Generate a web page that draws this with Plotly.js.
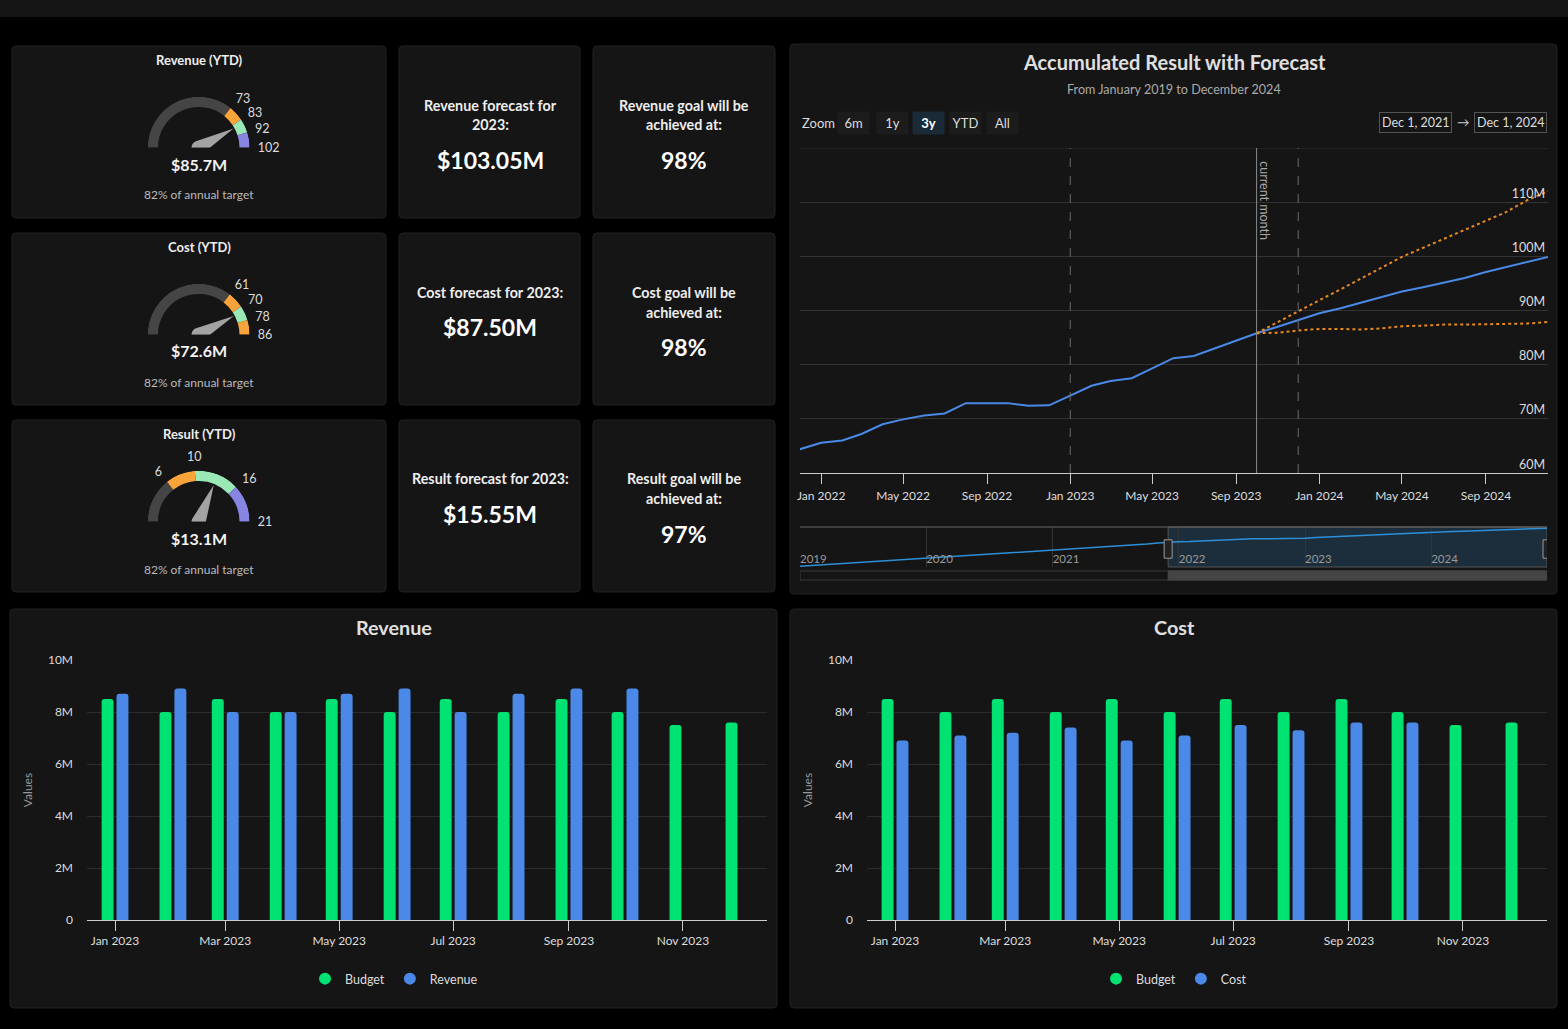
<!DOCTYPE html>
<html>
<head>
<meta charset="utf-8">
<script src="https://cdn.plot.ly/plotly-3.0.1.min.js"></script>
<style>
  html, body { margin: 0; padding: 0; background: #000; }
  #dash { width: 1568px; height: 1029px; }
</style>
</head>
<body>
<div id="dash"></div>
<script>
// ---------- data ----------
const gaugeTitles = ['Revenue (YTD)', 'Cost (YTD)', 'Result (YTD)'];
const gaugeValues = [85.7, 72.6, 13.1];            // $M year to date
const gaugeTicks = [[73, 83, 92, 102], [61, 70, 78, 86], [6, 10, 16, 21]];
const gaugeShare = ['82%', '82%', '82%'];

const forecastLabels = [['Revenue forecast for', '2023:'], ['Cost forecast for 2023:'], ['Result forecast for 2023:']];
const forecastValues = ['$103.05M', '$87.50M', '$15.55M'];
const goalLabels = [['Revenue goal will be', 'achieved at:'], ['Cost goal will be', 'achieved at:'], ['Result goal will be', 'achieved at:']];
const goalValues = ['98%', '98%', '97%'];

// accumulated result, monthly from Jan 2019 to Dec 2024 ($M)
const accValues = [
  3.2, 4.9, 6.5, 8.2, 10.0, 11.6, 13.3, 15.1, 16.7, 18.4, 20.2, 21.8,
  23.5, 25.3, 26.9, 28.6, 30.4, 32.0, 33.7, 35.5, 37.1, 38.8, 40.6, 42.2,
  43.9, 45.7, 47.3, 49.0, 50.8, 52.4, 54.1, 55.9, 57.5, 59.4, 62.0, 64.4,
  65.6, 66.0, 67.2, 69.0, 69.9, 70.6, 71.0, 72.9, 72.9, 72.9, 72.4, 72.5,
  74.3, 76.1, 77.0, 77.5, 79.3, 81.2, 81.6, 83.0, 84.4, 85.8, 87.0, 88.2,
  89.5, 90.4, 91.4, 92.4, 93.5, 94.3, 95.1, 96.0, 97.1, 98.0, 98.9, 99.9
];
// forecast band, Oct 2023 to Dec 2024 ($M)
const forecastHigh = [85.8, 87.9, 89.9, 91.9, 93.9, 95.9, 97.9, 99.9, 101.6, 103.2, 104.9, 106.5, 108.2, 110.4, 112.0];
const forecastLow  = [85.8, 85.9, 86.3, 86.6, 86.6, 86.5, 86.7, 87.1, 87.2, 87.4, 87.4, 87.5, 87.5, 87.6, 87.9];
const accTickVals = [60, 70, 80, 90, 100, 110, 120];
const accTickText = ['60M', '70M', '80M', '90M', '100M', '110M', ''];
const rangeStart = '2021-12-01';
const rangeEnd = '2024-12-01';
const currentMonth = '2023-10-01';
const markerLines = ['2023-01-01', '2023-12-01'];
const zoomButtons = ['6m', '1y', '3y', 'YTD', 'All'];
const activeZoom = '3y';

// monthly 2023 ($M)
const budget  = [8.5, 8.0, 8.5, 8.0, 8.5, 8.0, 8.5, 8.0, 8.5, 8.0, 7.5, 7.6];
const revenue = [8.7, 8.9, 8.0, 8.0, 8.7, 8.9, 8.0, 8.7, 8.9, 8.9, null, null];
const cost    = [6.9, 7.1, 7.2, 7.4, 6.9, 7.1, 7.5, 7.3, 7.6, 7.6, null, null];

// ---------- helpers ----------
const W = 1568, H = 1029;
const fx = p => p / W;
const fy = p => 1 - p / H;
const M = v => (v == null ? null : v * 1e6);
const monthNames = ['Jan','Feb','Mar','Apr','May','Jun','Jul','Aug','Sep','Oct','Nov','Dec'];
const fmtDate = d => { const [y, m, dd] = d.split('-'); return monthNames[+m - 1] + ' ' + (+dd) + ', ' + y; };

const accMonths = [];
for (let i = 0; i < accValues.length; i++) {
  const y = 2019 + Math.floor(i / 12), m = (i % 12) + 1;
  accMonths.push(y + '-' + String(m).padStart(2, '0') + '-01');
}
const forecastMonths = accMonths.slice(accMonths.indexOf(currentMonth));
const barMonths = accMonths.slice(48, 60);

const FONT = 'Lato, "Open Sans", sans-serif';
const BG = '#151515';
const C_GRAY = '#454545', C_ORANGE = '#f9a43a', C_MINT = '#9be8b7', C_PURPLE = '#8784e2';
const bandColors = [
  [C_GRAY, C_ORANGE, C_MINT, C_PURPLE],
  [C_GRAY, C_ORANGE, C_MINT, C_ORANGE],
  [C_GRAY, C_ORANGE, C_MINT, C_PURPLE]
];
const GREEN = '#00e272', BLUE = '#4a89e8', ORANGE = '#e8891e';

// ---------- panels ----------
const shapes = [];
function panel(x0, y0, x1, y1) {
  const rx = 4 / W, ry = 4 / H;
  const X0 = fx(x0), X1 = fx(x1), Y0 = fy(y0), Y1 = fy(y1);
  const path = `M${X0 + rx},${Y0} L${X1 - rx},${Y0} Q${X1},${Y0} ${X1},${Y0 - ry} L${X1},${Y1 + ry} Q${X1},${Y1} ${X1 - rx},${Y1} L${X0 + rx},${Y1} Q${X0},${Y1} ${X0},${Y1 + ry} L${X0},${Y0 - ry} Q${X0},${Y0} ${X0 + rx},${Y0} Z`;
  shapes.push({ type: 'path', xref: 'paper', yref: 'paper', path, fillcolor: BG, line: { color: '#222', width: 1 }, layer: 'below' });
}
shapes.push({ type: 'rect', xref: 'paper', yref: 'paper', x0: 0, x1: 1, y0: fy(17), y1: 1, fillcolor: BG, line: { width: 0 }, layer: 'below' });
const rowTop = [46, 233, 420];
rowTop.forEach(t => { panel(12, t, 386, t + 172); panel(399, t, 580, t + 172); panel(593, t, 775, t + 172); });
panel(790, 44, 1557, 594);
panel(10, 609, 777, 1008);
panel(790, 609, 1557, 1008);

// ---------- annotations ----------
const annotations = [];
function txt(x, y, text, size, color, bold, extra) {
  annotations.push(Object.assign({
    xref: 'paper', yref: 'paper', x: fx(x), y: fy(y), xanchor: 'center', yanchor: 'middle',
    text: bold ? '<b>' + text + '</b>' : text, showarrow: false,
    font: { family: FONT, size, color }
  }, extra || {}));
}

// ---------- gauges ----------
const traces = [];
const layout = {};
const R = 51;
const toDeg = (v, max) => 180 * (1 - v / max);
gaugeValues.forEach((val, g) => {
  const top = rowTop[g];
  const cx = 198.7, cy = top + 101.7;
  const ticks = gaugeTicks[g];
  const max = ticks[ticks.length - 1];
  const edges = [0].concat(ticks);
  const theta = [], width = [];
  for (let i = 0; i < edges.length - 1; i++) {
    const a = toDeg(edges[i], max), b = toDeg(edges[i + 1], max);
    theta.push((a + b) / 2); width.push(a - b);
  }
  const pid = g === 0 ? 'polar' : 'polar' + (g + 1);
  traces.push({
    type: 'barpolar', subplot: pid, theta, width, r: theta.map(() => 0.2), base: theta.map(() => 0.8),
    marker: { color: bandColors[g], line: { width: 0 } }, hoverinfo: 'skip', showlegend: false
  });
  // needle
  const th = toDeg(val, max);
  const nr = [0.78], nt = [th];
  for (let a = 90; a <= 270; a += 10) { nr.push(0.14); nt.push(th + a); }
  nr.push(0.78); nt.push(th);
  traces.push({
    type: 'scatterpolar', subplot: pid, r: nr, theta: nt, mode: 'lines', fill: 'toself',
    fillcolor: '#a3a3a3', line: { width: 0, color: '#a3a3a3' }, cliponaxis: false, hoverinfo: 'skip', showlegend: false
  });
  layout[pid] = {
    domain: { x: [fx(cx - R), fx(cx + R)], y: [fy(cy), fy(cy - R)] },
    sector: [0, 180], hole: 0, bgcolor: 'rgba(0,0,0,0)',
    radialaxis: { visible: false, range: [0, 1] },
    angularaxis: {
      rotation: 0, direction: 'counterclockwise', showgrid: false, showline: false,
      ticks: 'outside', ticklen: 5, tickcolor: 'rgba(0,0,0,0)',
      tickmode: 'array', tickvals: ticks.map(v => toDeg(v, max)), ticktext: ticks.map(String),
      tickfont: { family: FONT, size: 12.5, color: '#ddd' }
    }
  };
  txt(199, top + 14, gaugeTitles[g], 13, '#eee', true);
  txt(199, top + 118, '$' + val.toFixed(1) + 'M', 16, '#f2f2f2', true);
  txt(199, top + 149, gaugeShare[g] + ' of annual target', 12, '#bbb', false);

  // forecast + goal cards
  const fl = forecastLabels[g];
  fl.forEach((line, i) => txt(490, top + 59 + 20 * i, line, 14.3, '#eee', true));
  txt(490, top + 59 + 20 * fl.length + 15, forecastValues[g], 23, '#fff', true);
  const gl = goalLabels[g];
  gl.forEach((line, i) => txt(684, top + 59 + 20 * i, line, 14.3, '#eee', true));
  txt(684, top + 59 + 20 * gl.length + 15, goalValues[g], 23, '#fff', true);
});

// ---------- accumulated result chart ----------
traces.push({
  type: 'scatter', mode: 'lines', x: accMonths, y: accValues.map(M), xaxis: 'x', yaxis: 'y',
  line: { color: BLUE, width: 2 }, showlegend: false, hoverinfo: 'skip'
});
traces.push({
  type: 'scatter', mode: 'lines', x: forecastMonths, y: forecastHigh.map(M), xaxis: 'x', yaxis: 'y',
  line: { color: ORANGE, width: 2, dash: 'dot' }, showlegend: false, hoverinfo: 'skip'
});
traces.push({
  type: 'scatter', mode: 'lines', x: forecastMonths, y: forecastLow.map(M), xaxis: 'x', yaxis: 'y',
  line: { color: ORANGE, width: 2, dash: 'dot' }, showlegend: false, hoverinfo: 'skip'
});
// navigator series
traces.push({
  type: 'scatter', mode: 'lines', x: accMonths, y: accValues.map(M), xaxis: 'x2', yaxis: 'y2',
  line: { color: '#2d8fd8', width: 1.5 }, showlegend: false, hoverinfo: 'skip'
});

shapes.push({
  type: 'line', xref: 'x domain', yref: 'y', x0: 0, x1: 1, y0: M(accTickVals[accTickVals.length - 1]), y1: M(accTickVals[accTickVals.length - 1]),
  line: { color: '#333', width: 1 }, layer: 'below'
});
markerLines.forEach(d => shapes.push({
  type: 'line', xref: 'x', yref: 'y domain', x0: d, x1: d, y0: 0, y1: 1,
  line: { color: '#6a6a6a', width: 1, dash: 'dash' }
}));
shapes.push({
  type: 'line', xref: 'x', yref: 'y domain', x0: currentMonth, x1: currentMonth, y0: 0, y1: 1,
  line: { color: '#8a8a8a', width: 1 }
});
annotations.push({
  xref: 'x', yref: 'y domain', x: currentMonth, y: 0.965, xanchor: 'center', yanchor: 'top', xshift: 8,
  text: 'current month', textangle: 90, showarrow: false, font: { family: FONT, size: 12.5, color: '#aaa' }
});

// navigator window, handles and scrollbar
const accMin = Math.min(...accValues), accMax = Math.max(...accValues);
shapes.push({
  type: 'rect', xref: 'x2', yref: 'y2 domain', x0: rangeStart, x1: rangeEnd, y0: 0, y1: 1,
  fillcolor: '#1c2e3c', line: { color: '#555', width: 1 }, layer: 'below'
});
shapes.push({
  type: 'line', xref: 'paper', yref: 'paper', x0: fx(800), x1: fx(1547), y0: fy(527), y1: fy(527),
  line: { color: '#666', width: 1 }
});
[rangeStart, rangeEnd].forEach(d => shapes.push({
  type: 'rect', xref: 'x2', yref: 'y2 domain', xsizemode: 'pixel', xanchor: d, x0: -4, x1: 4, y0: 0.22, y1: 0.68,
  fillcolor: '#222', line: { color: '#999', width: 1 }
}));
shapes.push({
  type: 'rect', xref: 'x2', yref: 'paper', x0: accMonths[0], x1: accMonths[accMonths.length - 1], y0: fy(580), y1: fy(571),
  fillcolor: '#141414', line: { color: '#3a3a3a', width: 1 }
});
shapes.push({
  type: 'rect', xref: 'x2', yref: 'paper', x0: rangeStart, x1: rangeEnd, y0: fy(580), y1: fy(571),
  fillcolor: '#454545', line: { color: '#454545', width: 1 }
});

txt(1174, 62, 'Accumulated Result with Forecast', 20, '#e0e0e0', true);
txt(1174, 89, 'From January 2019 to December 2024', 12.6, '#aaa', false);
txt(800, 123, 'Zoom', 13, '#ddd', false, { xanchor: 'left' });
// zoom buttons
const btnCenters = [854, 892, 929, 965.5, 1002.5];
zoomButtons.forEach((b, i) => {
  const on = b === activeZoom;
  txt(btnCenters[i], 123, b, 13, on ? '#fff' : '#ddd', on, {
    width: 31, height: 22, bgcolor: on ? '#1a2a36' : '#1c1c1c', borderpad: 0
  });
});
txt(1415, 122, fmtDate(rangeStart), 12.5, '#ddd', false, { bordercolor: '#555', borderwidth: 1, borderpad: 2 });
txt(1463, 122, '→', 12.5, '#ccc', false);
txt(1510, 122, fmtDate(rangeEnd), 12.5, '#ddd', false, { bordercolor: '#555', borderwidth: 1, borderpad: 2 });

// ---------- monthly bar charts ----------
const barPanels = [
  { name: 'Revenue', values: revenue, xa: 'x3', ya: 'y3', legend: 'legend', cx: 394 },
  { name: 'Cost', values: cost, xa: 'x4', ya: 'y4', legend: 'legend2', cx: 1174 }
];
barPanels.forEach(p => {
  traces.push({
    type: 'bar', x: barMonths, y: budget.map(M), xaxis: p.xa, yaxis: p.ya, name: 'Budget',
    marker: { color: GREEN, cornerradius: 3 }, showlegend: false, hoverinfo: 'skip'
  });
  traces.push({
    type: 'bar', x: barMonths, y: p.values.map(M), xaxis: p.xa, yaxis: p.ya, name: p.name,
    marker: { color: BLUE, cornerradius: 3 }, showlegend: false, hoverinfo: 'skip'
  });
  [['Budget', GREEN], [p.name, BLUE]].forEach(([n, c]) => traces.push({
    type: 'scatter', mode: 'markers', x: [null], y: [null], xaxis: p.xa, yaxis: p.ya, name: n,
    marker: { color: c, size: 12, symbol: 'circle' }, legend: p.legend, showlegend: true, hoverinfo: 'skip'
  }));
  txt(p.cx, 627, p.name, 19.8, '#e0e0e0', true);
});

function barX(x0, x1) {
  return {
    domain: [fx(x0), fx(x1)], type: 'date', range: ['2022-12-17', '2023-12-16'],
    tickmode: 'linear', tick0: '2023-01-01', dtick: 'M2', tickformat: '%b %Y',
    ticks: 'outside', ticklen: 10, tickcolor: '#ccc', showline: true, linecolor: '#ccc',
    showgrid: false, zeroline: false, tickfont: { family: FONT, size: 12, color: '#ddd' }, fixedrange: true
  };
}
function barY() {
  return {
    domain: [fy(920), fy(660)], range: [0, 10e6], tickmode: 'linear', tick0: 0, dtick: 2e6, tickformat: '~s',
    gridcolor: '#2c2c2c', zeroline: false, showline: false, ticklabelstandoff: 13,
    tickfont: { family: FONT, size: 12, color: '#ddd' },
    title: { text: 'Values', font: { family: FONT, size: 12, color: '#999' }, standoff: 12 }, fixedrange: true
  };
}
const legendStyle = cx => ({
  orientation: 'h', x: fx(cx), xanchor: 'center', y: fy(979), yanchor: 'middle', itemwidth: 30,
  bgcolor: 'rgba(0,0,0,0)', font: { family: FONT, size: 12.5, color: '#ddd' }, itemclick: false
});

Object.assign(layout, {
  width: W, height: H, margin: { l: 0, r: 0, t: 0, b: 0 },
  paper_bgcolor: '#000', plot_bgcolor: 'rgba(0,0,0,0)',
  font: { family: FONT, color: '#ddd' },
  barmode: 'group', bargap: 0.43, bargroupgap: 0.2,
  xaxis: {
    domain: [fx(800), fx(1548)], anchor: 'y', type: 'date', range: [rangeStart, rangeEnd],
    tickmode: 'linear', tick0: '2022-01-01', dtick: 'M4', tickformat: '%b %Y',
    ticks: 'outside', ticklen: 10, tickcolor: '#ccc', showline: true, linecolor: '#ccc', ticklabelstandoff: 2,
    showgrid: false, zeroline: false, tickfont: { family: FONT, size: 12, color: '#ddd' }
  },
  yaxis: {
    domain: [fy(473), fy(148)], anchor: 'x', side: 'right', range: [60e6, 120e6],
    tickmode: 'array', tickvals: accTickVals.map(M), ticktext: accTickText,
    ticklabelposition: 'inside top', gridcolor: '#333', zeroline: false, showline: false,
    tickfont: { family: FONT, size: 12.5, color: '#ddd' }
  },
  xaxis2: {
    domain: [fx(800), fx(1547)], anchor: 'free', position: fy(571), type: 'date',
    range: [accMonths[0], accMonths[accMonths.length - 1]],
    tickmode: 'linear', tick0: accMonths[0], dtick: 'M12', tickformat: '%Y', ticklabelposition: 'inside right',
    showgrid: true, gridcolor: '#333', ticks: '', showline: false, zeroline: false,
    tickfont: { family: FONT, size: 11.5, color: '#999' }
  },
  yaxis2: {
    domain: [fy(567), fy(527)], anchor: 'x2', range: [M(accMin - 2), M(accMax + 3)], visible: false
  },
  xaxis3: Object.assign(barX(87, 767), { anchor: 'y3' }),
  yaxis3: Object.assign(barY(), { anchor: 'x3' }),
  xaxis4: Object.assign(barX(867, 1547), { anchor: 'y4' }),
  yaxis4: Object.assign(barY(), { anchor: 'x4' }),
  legend: legendStyle(394),
  legend2: legendStyle(1174),
  shapes, annotations
});

Plotly.newPlot('dash', traces, layout, { displayModeBar: false, staticPlot: true });
</script>
</body>
</html>
